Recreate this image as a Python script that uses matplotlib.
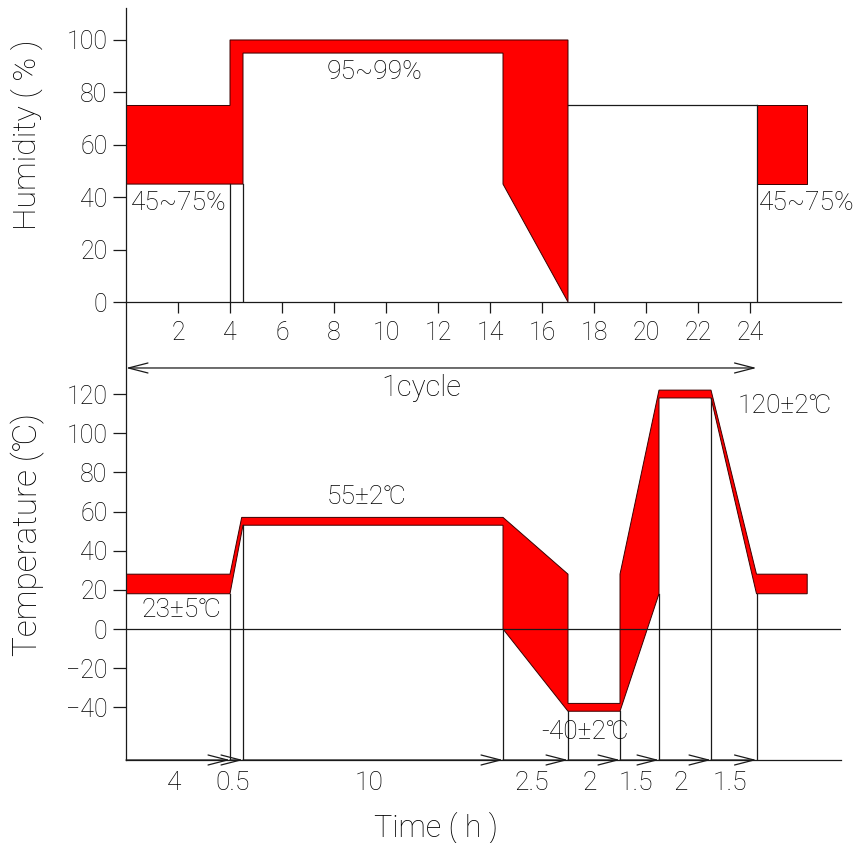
import numpy as np
import matplotlib
matplotlib.use('Agg')
import matplotlib.pyplot as plt
from matplotlib.patches import Polygon

plt.rcParams['font.family'] = ['Roboto', 'DejaVu Sans']
plt.rcParams['font.weight'] = 'light'

# humidity profile (time in h, humidity in %)
hum_upper_x = [0, 4, 4, 17]
hum_upper_y = [75, 75, 100, 100]
hum_lower_x = [17, 14.5, 14.5, 4.5, 4.5, 0]
hum_lower_y = [0, 45, 95, 95, 45, 45]
hum_end_x = [24.25, 26.2]
hum_end_y = [45, 75]
hum_hold_x = [17, 24.25]
hum_hold_y = 75
hum_drop_x = [4, 4.5]

# temperature profile (time in h, temperature in degC)
temp_upper_x = [0, 4, 4.45, 14.5, 17, 17, 19, 19, 20.5, 22.5, 24.25, 26.2]
temp_upper_y = [28, 28, 57, 57, 28, -38, -38, 28, 122, 122, 28, 28]
temp_lower_x = [0, 4, 4.5, 14.5, 14.5, 17, 19, 20.5, 20.5, 22.5, 24.25, 26.2]
temp_lower_y = [18, 18, 53, 53, 0, -42, -42, 18, 118, 118, 18, 18]

# step durations along the time line
step_ends = [4, 4.5, 14.5, 17, 19, 20.5, 22.5, 24.25]
step_labels = ['4', '0.5', '10', '2.5', '2', '1.5', '2', '1.5']

hum_ticks = [0, 20, 40, 60, 80, 100]
temp_ticks = [-40, -20, 0, 20, 40, 60, 80, 100, 120]
time_ticks = [2, 4, 6, 8, 10, 12, 14, 16, 18, 20, 22, 24]

LC = '#1a1a1a'
TC = 'black'
RED = '#ff0000'
LW = 0.9
ANN = 19

W, H = 860, 843
fig = plt.figure(figsize=(W / 100, H / 100), dpi=100)


def box(l, t, r, b):
    return [l / W, 1 - b / H, (r - l) / W, (b - t) / H]


ax1 = fig.add_axes(box(126, 8, 841, 302))
ax2 = fig.add_axes(box(126, 302, 841, 760))

for ax in (ax1, ax2):
    ax.set_facecolor('none')
    ax.spines['top'].set_visible(False)
    ax.spines['right'].set_visible(False)
    for s in ('left', 'bottom'):
        ax.spines[s].set_color(LC)
        ax.spines[s].set_linewidth(LW)
    ax.set_xlim(0, 27.5)

# ---- humidity ----
ax1.set_ylim(0, 112.2)
pts = list(zip(hum_upper_x + hum_lower_x, hum_upper_y + hum_lower_y))
ax1.add_patch(Polygon(pts, closed=True, facecolor=RED, edgecolor='#3a0000', lw=0.7, zorder=2))
ax1.fill_between(hum_end_x, hum_end_y[0], hum_end_y[1], facecolor=RED,
                 edgecolor='#3a0000', lw=0.7, zorder=2)
ax1.plot(hum_hold_x, [hum_hold_y, hum_hold_y], color=LC, lw=LW, zorder=3)
ax1.plot([hum_hold_x[1]] * 2, [0, hum_hold_y], color=LC, lw=LW, zorder=3)
for x in hum_drop_x:
    ax1.plot([x, x], [0, hum_end_y[0]], color=LC, lw=LW, zorder=3)

ax1.set_yticks(hum_ticks)
ax1.set_xticks(time_ticks)
ax1.tick_params(axis='y', direction='out', length=9.4, width=LW, pad=4, labelsize=18,
                color=LC, labelcolor=TC)
ax1.tick_params(axis='x', direction='out', length=8, width=LW, pad=6, labelsize=18,
                color=LC, labelcolor=TC)

ax1.text(9.54, 87.8, '95~99%', ha='center', va='center', fontsize=ANN, color=TC)
ax1.text(2.04, 37.8, '45~75%', ha='center', va='center', fontsize=ANN, color=TC)
ax1.text(24.35, 37.8, '45~75%', ha='left', va='center', fontsize=ANN, color=TC)

# ---- temperature ----
y_bot = -66.9
ax2.set_ylim(y_bot, 167)
pts = list(zip(temp_upper_x + temp_lower_x[::-1], temp_upper_y + temp_lower_y[::-1]))
ax2.add_patch(Polygon(pts, closed=True, facecolor=RED, edgecolor='#3a0000', lw=0.7, zorder=2))
ax2.axhline(0, color=LC, lw=LW, zorder=3)

lx = np.array(temp_lower_x)
ly = np.array(temp_lower_y)
for x in step_ends:
    same = ly[np.isclose(lx, x)]
    y0 = same.min() if same.size else np.interp(x, lx, ly)
    ax2.plot([x, x], [y_bot, y0], color=LC, lw=LW, zorder=3)

starts = [0] + step_ends[:-1]
for s, e, lab in zip(starts, step_ends, step_labels):
    ax2.annotate('', xy=(e, y_bot), xytext=(s, y_bot),
                 arrowprops=dict(arrowstyle='->,head_length=1.4,head_width=0.36',
                                 mutation_scale=10, lw=LW, color=LC,
                                 shrinkA=0, shrinkB=0), annotation_clip=False, zorder=4)
    ax2.text((s + e) / 2 - 0.15, y_bot - 11.5, lab, ha='center', va='center',
             fontsize=19, color=TC, clip_on=False)

ax2.annotate('', xy=(step_ends[-1], 133.3), xytext=(0, 133.3),
             arrowprops=dict(arrowstyle='<->,head_length=1.4,head_width=0.36',
                             mutation_scale=10, lw=LW, color=LC, shrinkA=0, shrinkB=0))
ax2.text(11.35, 123, '1cycle', ha='center', va='center', fontsize=21, color=TC)

ax2.set_yticks(temp_ticks)
ax2.set_xticks([])
ax2.tick_params(axis='y', direction='out', length=9.4, width=LW, pad=4, labelsize=18,
                color=LC, labelcolor=TC)

ax2.text(9.23, 67.4, '55±2℃', ha='center', va='center', fontsize=ANN, color=TC)
ax2.text(2.12, 9.7, '23±5℃', ha='center', va='center', fontsize=ANN, color=TC)
ax2.text(17.65, -52.6, '-40±2℃', ha='center', va='center', fontsize=ANN, color=TC)
ax2.text(25.35, 113.9, '120±2℃', ha='center', va='center', fontsize=ANN, color=TC)

fig.text(27 / W, 1 - 135 / H, 'Humidity ( % )', rotation=90, ha='center', va='center',
         fontsize=23, color=TC)
fig.text(28 / W, 1 - 535 / H, 'Temperature (℃)', rotation=90, ha='center', va='center',
         fontsize=24, color=TC)
fig.text(436 / W, 1 - 828 / H, 'Time ( h )', ha='center', va='center', fontsize=22, color=TC)

fig.savefig('out.png', dpi=100, facecolor='white')
